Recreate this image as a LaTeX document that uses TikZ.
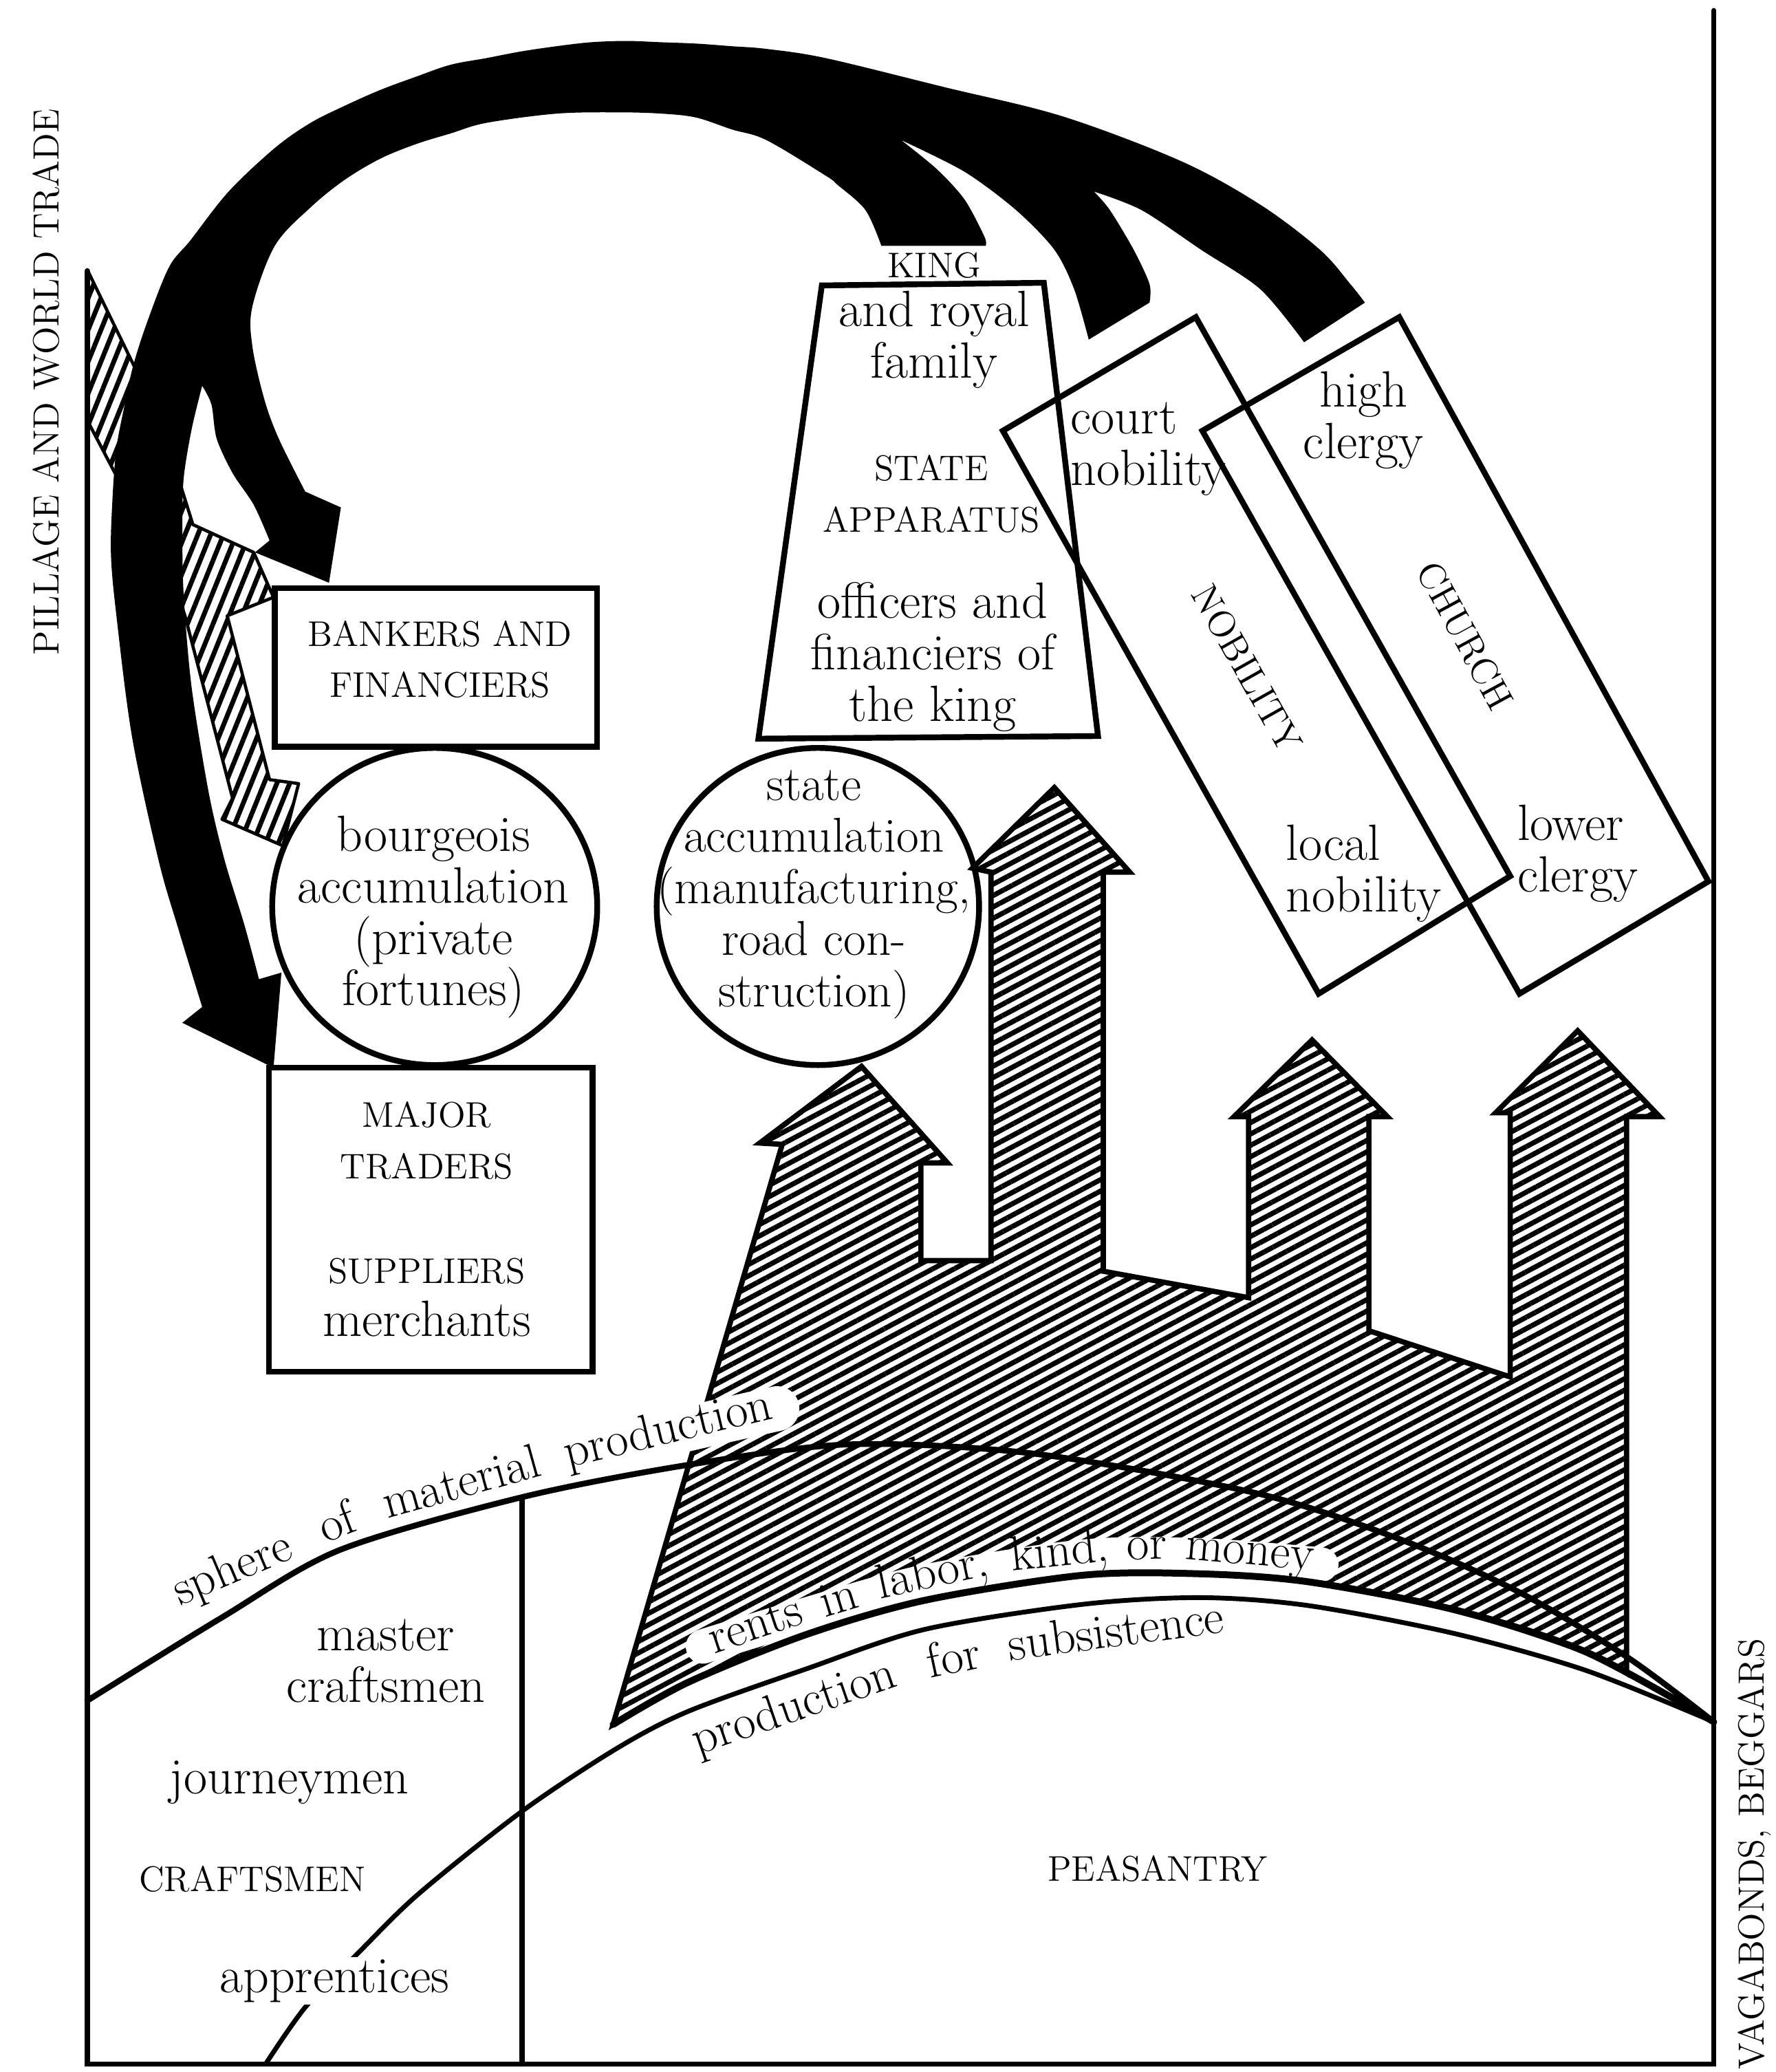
\documentclass[tikz,border=0pt]{standalone}
\usepackage{fontspec}
\usetikzlibrary{patterns.meta,shapes.geometric}

\tikzset{
  body/.style={font=\fontsize{19.3}{19.5}\selectfont, align=center, inner sep=0pt},
  capsl/.style={font=\fontsize{13.5}{19.5}\selectfont\addfontfeature{LetterSpace=9}, align=center, inner sep=0pt},
  capsrot/.style={font=\fontsize{14.2}{19.5}\selectfont, inner sep=0pt, rotate=#1},
  sidelabel/.style={font=\fontsize{13.8}{15}\selectfont\addfontfeature{LetterSpace=5}, rotate=90, inner sep=0pt},
  arcword/.style={font=\fontsize{18.5}{19.5}\selectfont, inner sep=0pt, anchor=base, rotate=#1},
  frameline/.style={line width=2pt, line cap=round},
  boxline/.style={draw, line width=2.2pt},
  blackflow/.style={fill=black},
  leftstripe/.style={pattern={Lines[angle=68,distance=4.5pt,line width=1.8pt]}, draw, line width=1.2pt, line join=round},
  rentstripe/.style={pattern={Lines[angle=28,distance=3.8pt,line width=1.9pt]}, draw, line width=2pt},
  curveline/.style={line width=2pt, line cap=round},
  whiteband/.style={draw=white, line cap=round},
}

\begin{document}
\begin{tikzpicture}[x=0.5pt,y=-0.5pt]
\useasboundingbox (0,0) rectangle (1344,1568);

% outer frame
\draw[frameline] (66,205) -- (66,1562) -- (1297,1562) -- (1297,8);

% hatched inflow entering from the left edge
\path[leftstripe] (66,204) -- (101,276) -- (125,330) -- (146,397) -- (192,418) -- (207,452)
  -- (172,466) -- (204,590) -- (226,593) -- (214,640) -- (168,620) -- (176,604)
  -- (140,466) -- (118,400) -- (87,358) -- (66,318) -- cycle;

% great black flow from the top of society back to the bourgeoisie
\fill[blackflow]
  (207,808) -- (138,774) --
  plot[smooth, tension=0.55] coordinates {(153,762) (135,703) (120,651) (100,558) (88,465) (84,420) (85,380) (88,340) (94,308) (101,276) (112,242) (128,202) (144,182) (173,145) (208,112) (235,93) (261,80) (288,68) (315,58) (341,49) (368,44) (394,39) (421,35) (447,32) (474,31) (501,32) (527,33) (554,35) (580,37) (625,44) (715,66) (804,88) (894,122) (954,155) (999,189) (1022,215) (1033,229)}
  -- (987,259) --
  plot[smooth] coordinates {(987,259) (954,219) (909,189) (864,159) (828,145)}
  -- plot[smooth] coordinates {(828,145) (840,159) (858,189) (870,215) (870,229)}
  -- (824,257) --
  plot[smooth] coordinates {(824,257) (813,219) (798,189) (769,159) (730,130) (682,106)}
  -- plot[smooth] coordinates {(682,106) (709,128) (730,151) (745,179) (746,186)}
  -- (667,186) --
  plot[smooth, tension=0.55] coordinates {(667,186) (655,159) (634,140) (625,133) (580,106) (554,98) (527,89) (501,86) (467,85) (421,86) (368,93) (341,101) (315,109) (288,120) (261,136) (235,157) (208,186) (191,232) (191,262) (200,302) (211,332) (231,372)}
  -- (258,384) -- (249,441) -- (193,418) --
  plot[smooth] coordinates {(204,409) (192,382) (176,358) (164,332) (160,306) (153,292)}
  -- plot[smooth] coordinates {(153,292) (145,325) (139,362) (138,400) (139,450) (145,520) (158,600) (170,651) (185,700) (196,741)}
  -- (213,736) -- cycle;

% nobility and church bands
\draw[boxline] (905,240) -- (1143,663) -- (998,752) -- (759,326) -- cycle;
\draw[boxline] (1059,240) -- (1293,667) -- (1150,752) -- (910,326) -- cycle;
% state apparatus
\draw[boxline] (622,216) -- (790,214) -- (831,557) -- (574,559) -- cycle;

% bourgeois side
\node[boxline, minimum width=122pt, minimum height=60pt, inner sep=0pt] (bankers) at (330,505) {};
\node[capsl] (bankerstext) at (333,499) {BANKERS AND\\FINANCIERS};
\node[boxline, ellipse, minimum width=123pt, minimum height=120pt, inner sep=0pt] (bourgeois) at (329,686) {};
\node[body] (bourgeoistext) at (328,694) {bourgeois\\accumulation\\(private\\fortunes)};
\node[boxline, minimum width=122.5pt, minimum height=115pt, inner sep=0pt] (tradersbox) at (326,923) {};
\node[capsl] (traders) at (323,863) {MAJOR\\TRADERS};
\node[capsl] (suppliers) at (323,962) {SUPPLIERS};
\node[body] (merchants) at (323,998) {merchants};

% state accumulation
\node[boxline, ellipse, minimum width=122pt, minimum height=120pt, inner sep=0pt] (statecirc) at (619,686) {};
\node[body, font=\fontsize{18.5}{19.5}\selectfont] (statetext) at (616,677) {state\\accumulation\\(manufacturing,\\road con-\\struction)};

% hatched rents rising from the peasantry
\path[rentstripe] (464,1305) -- (592,866) -- (575,865) -- (652,807) -- (717,880) -- (697,880)
  -- (697,954) -- (750,954) -- (750,660) -- (736,657) -- (798,596) -- (855,660) -- (835,660)
  -- (835,962) -- (945,982) -- (945,845) -- (934,845) -- (993,787) -- (1050,845) -- (1036,845)
  -- (1036,1007) -- (1143,1042) -- (1143,842) -- (1132,842) -- (1194,780) -- (1256,845) -- (1231,845)
  -- (1231,1266) --
  plot[smooth] coordinates {(1231,1266) (1200,1250) (1100,1218) (990,1197) (909,1191) (820,1192) (700,1211) (610,1237) (521,1273) (464,1305)}
  -- cycle;

% clear space for the curved labels
\draw[whiteband, line width=13pt] plot[smooth] coordinates {(532,1246) (610,1222) (700,1197) (820,1178) (909,1177) (1000,1184)};
\draw[whiteband, line width=17pt] plot[smooth] coordinates {(470,1093) (530,1079) (588,1066)};

% sphere of material production
\draw[curveline, line width=2.2pt] plot[smooth] coordinates {(66,1287) (168,1224) (257,1173) (395,1133) (518,1109) (643,1093) (782,1100) (951,1130) (1060,1165) (1150,1205) (1233,1255) (1297,1303)};
% lower edge of the rents
\draw[curveline, line width=2.6pt] plot[smooth] coordinates {(464,1305) (521,1273) (610,1237) (700,1211) (820,1192) (909,1191) (990,1197) (1100,1218) (1200,1250) (1297,1303)};
% production for subsistence
\draw[curveline, line width=1.8pt] plot[smooth] coordinates {(201,1562) (231,1519) (271,1478) (317,1433) (396,1370) (467,1323) (521,1295) (610,1263) (700,1233) (820,1214) (909,1209) (990,1215) (1100,1236) (1200,1264) (1297,1303)};
% craft / peasant divide
\draw[curveline] (395,1133) -- (395,1562);

% words set along the curves
\node[arcword=23] (wsphere) at (180,1197) {sphere};
\node[arcword=21] (wof) at (259,1163) {of};
\node[arcword=15.5] (wmaterial) at (352,1133) {material};
\node[arcword=13.5] (wproduction) at (508,1092) {production};

\node[arcword=18.5] (wrents) at (575,1240) {rents};
\node[arcword=17] (win) at (638,1220) {in};
\node[arcword=12] (wlabor) at (708,1201) {labor,};
\node[arcword=6] (wkind) at (803,1185) {kind,};
\node[arcword=1] (wor) at (868,1180) {or};
\node[arcword=-5] (wmoney) at (945,1184) {money};

\node[arcword=19] (wprod) at (604,1302) {production};
\node[arcword=12] (wfor) at (724,1266) {for};
\node[arcword=7.5] (wsubs) at (846,1246) {subsistence};

% labels of the upper orders
\node[capsl] (king) at (707,201) {KING};
\node[body] (royal) at (707,257) {and royal\\family};
\node[capsl] (stateapp) at (705,374) {STATE\\APPARATUS};
\node[body] (officers) at (706,497) {officers and\\financiers of\\the king};
\node[body, align=left, anchor=west] (court) at (810,340) {court\\nobility};
\node[body] (high) at (1032,318) {high\\clergy};
\node[capsrot=-60.6] (nobility) at (944,506) {NOBILITY};
\node[capsrot=-61.5] (church) at (1109,481) {CHURCH};
\node[body, align=left, anchor=west] (local) at (973,661) {local\\nobility};
\node[body, align=left, anchor=west] (lower) at (1148,646) {lower\\clergy};

% labels of the producing orders
\node[body] (masters) at (292,1257) {master\\craftsmen};
\node[body] (journeymen) at (219,1349) {journeymen};
\node[capsl] (craftsmen) at (191,1422) {CRAFTSMEN};
\node[body, fill=white, inner sep=1pt] (apprentices) at (253,1499) {apprentices};
\node[capsl] (peasantry) at (876,1414) {PEASANTRY};

% side labels
\node[sidelabel] (pillage) at (35,289) {PILLAGE AND WORLD TRADE};
\node[sidelabel] (vagabonds) at (1328,1403) {VAGABONDS, BEGGARS};
\end{tikzpicture}
\end{document}
